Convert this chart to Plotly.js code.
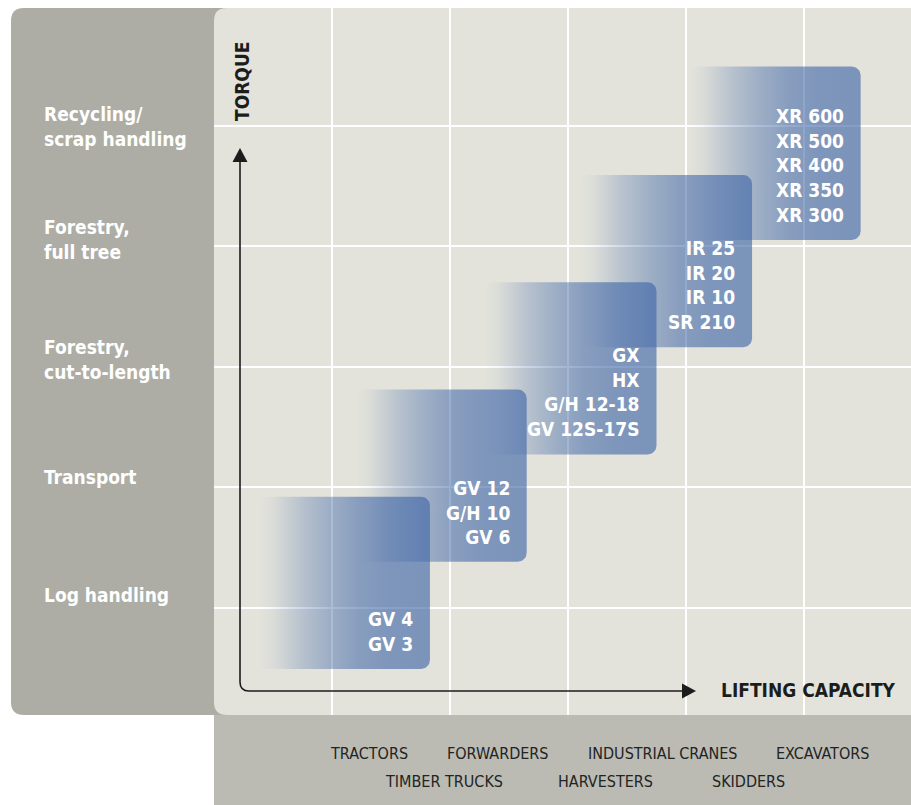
<!DOCTYPE html>
<html>
<head>
<meta charset="utf-8">
<script src="https://cdn.plot.ly/plotly-3.0.1.min.js"></script>
<style>
  html, body { margin: 0; padding: 0; background: #ffffff; }
  #chart { width: 911px; height: 805px; }
</style>
</head>
<body>
<div id="chart"></div>
<script>
// ---------------- DATA ----------------
// Torque categories (left panel), bottom to top, with their level on the torque axis
const torqueCategories = ["Log handling", "Transport", "Forestry,<br>cut-to-length", "Forestry,<br>full tree", "Recycling/<br>scrap handling"];
const torqueLevels = [1.10, 2.08, 3.06, 4.05, 4.99];

// Product ranges (lifting capacity = x, torque = y), in grid units
const productGroups = [
  ["GV 4", "GV 3"],
  ["GV 12", "G/H 10", "GV 6"],
  ["GX", "HX", "G/H 12-18", "GV 12S-17S"],
  ["IR 25", "IR 20", "IR 10", "SR 210"],
  ["XR 600", "XR 500", "XR 400", "XR 350", "XR 300"]
];
const capacityMin = [0.38, 1.20, 2.29, 3.10, 4.02];
const capacityMax = [1.83, 2.65, 3.75, 4.56, 5.48];
const torqueMin   = [0.49, 1.38, 2.27, 3.16, 4.05];
const torqueMax   = [1.92, 2.81, 3.70, 4.59, 5.49];

// Applications along the lifting-capacity axis (two staggered rows)
const applicationsRow1 = ["TRACTORS", "FORWARDERS", "INDUSTRIAL CRANES", "EXCAVATORS"];
const applicationsRow1X = [1.31, 2.40, 3.80, 5.16];
const applicationsRow2 = ["TIMBER TRUCKS", "HARVESTERS", "SKIDDERS"];
const applicationsRow2X = [1.95, 3.32, 4.53];

const xAxisTitle = "LIFTING CAPACITY";
const yAxisTitle = "TORQUE";

// ---------------- LAYOUT GEOMETRY ----------------
const W = 911, H = 805;
const plotLeft = 214, plotRight = 911, plotTop = 8, plotBottom = 715;
const unitX = 118, unitY = 120.5, yZeroPx = 728;
const px = p => p / W;          // pixel -> paper x
const py = p => 1 - p / H;      // pixel -> paper y

const FONT = "DejaVu Sans Condensed, DejaVu Sans, sans-serif";
const BLUE = "62,101,167";

function roundedRectPath(x0, y0, x1, y1, r, opts) {
  const o = Object.assign({tl: true, tr: true, br: true, bl: true}, opts || {});
  const P = (x, y) => px(x).toFixed(5) + "," + py(y).toFixed(5);
  let d = "M" + P(x0 + (o.tl ? r : 0), y0);
  d += " L" + P(x1 - (o.tr ? r : 0), y0);
  if (o.tr) d += " Q" + P(x1, y0) + " " + P(x1, y0 + r);
  d += " L" + P(x1, y1 - (o.br ? r : 0));
  if (o.br) d += " Q" + P(x1, y1) + " " + P(x1 - r, y1);
  d += " L" + P(x0 + (o.bl ? r : 0), y1);
  if (o.bl) d += " Q" + P(x0, y1) + " " + P(x0, y1 - r);
  d += " L" + P(x0, y0 + (o.tl ? r : 0));
  if (o.tl) d += " Q" + P(x0, y0) + " " + P(x0 + r, y0);
  return d + " Z";
}

// rounded rectangle polygon in data units
function roundedBox(x0, x1, y0, y1) {
  const rx = 9 / unitX, ry = 9 / unitY, n = 8;
  const xs = [], ys = [];
  const corners = [
    [x1 - rx, y1 - ry, 0],
    [x0 + rx, y1 - ry, Math.PI / 2],
    [x0 + rx, y0 + ry, Math.PI],
    [x1 - rx, y0 + ry, 1.5 * Math.PI]
  ];
  corners.forEach(([cx, cy, a0]) => {
    for (let k = 0; k <= n; k++) {
      const a = a0 + (Math.PI / 2) * k / n;
      xs.push(cx + rx * Math.cos(a));
      ys.push(cy + ry * Math.sin(a));
    }
  });
  xs.push(xs[0]); ys.push(ys[0]);
  return {xs, ys};
}

// ---------------- TRACES ----------------
const traces = productGroups.map((g, i) => {
  const b = roundedBox(capacityMin[i], capacityMax[i], torqueMin[i], torqueMax[i]);
  return {
    type: "scatter", mode: "lines",
    x: b.xs, y: b.ys,
    fill: "toself",
    line: {width: 0, color: "rgba(0,0,0,0)"},
    fillgradient: {
      type: "horizontal",
      colorscale: [
        [0.00, "rgba(" + BLUE + ",0)"],
        [0.08, "rgba(" + BLUE + ",0.05)"],
        [0.25, "rgba(" + BLUE + ",0.26)"],
        [0.42, "rgba(" + BLUE + ",0.43)"],
        [0.58, "rgba(" + BLUE + ",0.55)"],
        [0.75, "rgba(" + BLUE + ",0.61)"],
        [1.00, "rgba(" + BLUE + ",0.63)"]
      ]
    },
    hoverinfo: "skip", showlegend: false, name: g.join(", ")
  };
});

// ---------------- SHAPES ----------------
const shapes = [
  {type: "path", xref: "paper", yref: "paper", layer: "below",
   path: roundedRectPath(11, 8, 300, 715, 13), fillcolor: "#ADADA5", line: {width: 0}},
  {type: "path", xref: "paper", yref: "paper", layer: "below",
   path: roundedRectPath(plotLeft, 715, 915, 810, 0), fillcolor: "#BBBBB3", line: {width: 0}},
  {type: "path", xref: "paper", yref: "paper", layer: "below",
   path: roundedRectPath(plotLeft, plotTop, 915, plotBottom, 13, {tr: false, br: false}),
   fillcolor: "#E3E3DB", line: {width: 0}},
  {type: "path", xref: "paper", yref: "paper", layer: "above",
   path: "M" + px(240) + "," + py(160) + " L" + px(240) + "," + py(682) +
         " Q" + px(240) + "," + py(691) + " " + px(249) + "," + py(691) +
         " L" + px(684) + "," + py(691),
   line: {color: "#1b1d1d", width: 1.6}},
  {type: "path", xref: "paper", yref: "paper", layer: "above",
   path: "M" + px(240) + "," + py(148) + " L" + px(247.5) + "," + py(162) +
         " L" + px(232.5) + "," + py(162) + " Z",
   fillcolor: "#1b1d1d", line: {width: 0}},
  {type: "path", xref: "paper", yref: "paper", layer: "above",
   path: "M" + px(696) + "," + py(691) + " L" + px(682) + "," + py(683.5) +
         " L" + px(682) + "," + py(698.5) + " Z",
   fillcolor: "#1b1d1d", line: {width: 0}}
];

// ---------------- ANNOTATIONS ----------------
const annotations = [];
torqueCategories.forEach((t, i) => {
  annotations.push({
    text: t, xref: "paper", yref: "y", x: px(42), y: torqueLevels[i],
    xanchor: "left", yanchor: "middle", align: "left", showarrow: false,
    font: {family: FONT, size: 19, color: "#ffffff", weight: "bold"}
  });
});
productGroups.forEach((g, i) => {
  annotations.push({
    text: g.join("<br>"), xref: "x", yref: "y",
    x: capacityMax[i], y: torqueMin[i], xanchor: "right", yanchor: "bottom",
    xshift: -16, yshift: 13, align: "right", showarrow: false, borderpad: 0,
    font: {family: FONT, size: 19, color: "#ffffff", weight: "bold"}
  });
});
applicationsRow1.forEach((t, i) => {
  annotations.push({
    text: t, xref: "x", yref: "paper", x: applicationsRow1X[i], y: py(753),
    xanchor: "center", yanchor: "middle", showarrow: false,
    font: {family: FONT, size: 16, color: "#222424"}
  });
});
applicationsRow2.forEach((t, i) => {
  annotations.push({
    text: t, xref: "x", yref: "paper", x: applicationsRow2X[i], y: py(781),
    xanchor: "center", yanchor: "middle", showarrow: false,
    font: {family: FONT, size: 16, color: "#222424"}
  });
});
annotations.push({
  text: yAxisTitle, xref: "paper", yref: "paper", x: px(242), y: py(82),
  textangle: -90, xanchor: "center", yanchor: "middle", showarrow: false,
  font: {family: FONT, size: 19, color: "#1b1d1d", weight: "bold"}
});
annotations.push({
  text: xAxisTitle, xref: "paper", yref: "paper", x: px(808), y: py(690),
  xanchor: "center", yanchor: "middle", showarrow: false,
  font: {family: FONT, size: 19, color: "#1b1d1d", weight: "bold"}
});

// ---------------- LAYOUT ----------------
const layout = {
  width: W, height: H,
  margin: {l: 0, r: 0, t: 0, b: 0, pad: 0},
  paper_bgcolor: "#ffffff",
  plot_bgcolor: "rgba(0,0,0,0)",
  showlegend: false,
  xaxis: {
    domain: [px(plotLeft), 1],
    range: [0, (plotRight - plotLeft) / unitX],
    tickmode: "array", tickvals: [1, 2, 3, 4, 5],
    showticklabels: false, ticks: "",
    showgrid: true, gridcolor: "#ffffff", gridwidth: 2,
    zeroline: false, showline: false, fixedrange: true
  },
  yaxis: {
    domain: [py(plotBottom), py(plotTop)],
    range: [(yZeroPx - plotBottom) / unitY, (yZeroPx - plotTop) / unitY],
    tickmode: "array", tickvals: [1, 2, 3, 4, 5],
    showticklabels: false, ticks: "",
    showgrid: true, gridcolor: "#ffffff", gridwidth: 2,
    zeroline: false, showline: false, fixedrange: true
  },
  shapes: shapes,
  annotations: annotations
};

Plotly.newPlot("chart", traces, layout, {displayModeBar: false, staticPlot: true});
</script>
</body>
</html>
